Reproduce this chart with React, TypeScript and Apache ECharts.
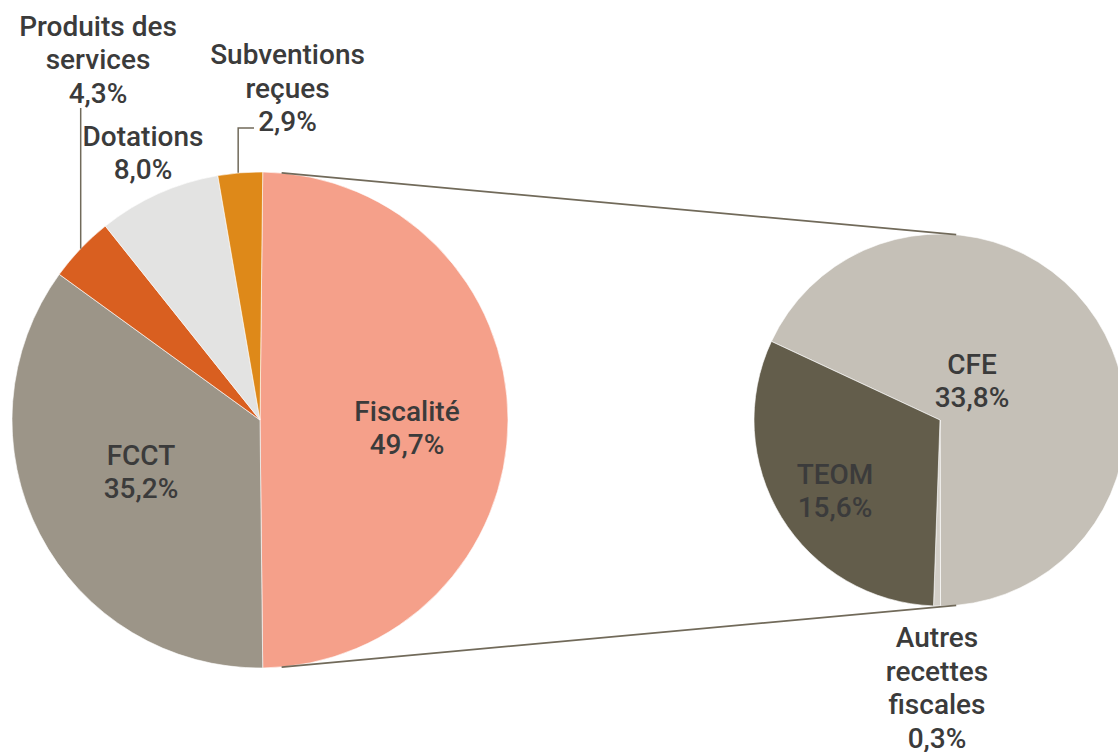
import React, { useEffect, useRef } from "react";
import * as echarts from "echarts";

// ---- Data ----
const mainNames = ["Fiscalité", "FCCT", "Produits des\nservices", "Dotations", "Subventions\nreçues"];
const mainValues = [49.7, 35.2, 4.3, 8.0, 2.9];
const mainColors = ["#F5A08A", "#9C9588", "#D95F20", "#E3E3E2", "#DE8919"];

const subNames = ["CFE", "Autres\nrecettes\nfiscales", "TEOM"];
const subValues = [33.8, 0.3, 15.6];
const subColors = ["#C5C0B7", "#D3CFC8", "#635D4B"];

// ---- Layout ----
const MAIN_C = [260, 420];
const MAIN_R = 248;
const SUB_C = [940, 420];
const SUB_R = 186;
const SUB_START = 155;
const CONNECT_ANGLE = 85;

const mainLabelPos = [
  [407, 428],
  [141, 472],
  [98, 59.5],
  [143, 153],
  [287.5, 88],
];
const subLabelPos = [
  [972, 381],
  [937, 688],
  [835, 491],
];

const FONT = "Roboto, 'Noto Sans', sans-serif";
const TEXT_COLOR = "#3B3B3B";

const fmt = (v: number) => v.toFixed(1).replace(".", ",") + "%";

function sum(a: number[]) {
  return a.reduce((s, v) => s + v, 0);
}

function midAngle(values: number[], start: number, i: number) {
  const total = sum(values);
  let a = start;
  for (let k = 0; k < i; k++) a -= (values[k] / total) * 360;
  return a - (values[i] / total) * 180;
}

function onCircle(c: number[], r: number, deg: number) {
  const t = (deg * Math.PI) / 180;
  return [c[0] + r * Math.cos(t), c[1] - r * Math.sin(t)];
}

export default function App() {
  const ref = useRef<HTMLDivElement>(null);

  useEffect(() => {
    if (!ref.current) return;
    document.body.style.margin = "0";
    const chart = echarts.init(ref.current, undefined, { renderer: "svg" });

    const mainStart = (mainValues[0] / sum(mainValues)) * 180;

    const labelStyle = {
      show: true,
      position: "inside",
      color: TEXT_COLOR,
      fontFamily: FONT,
      fontSize: 28,
      fontWeight: 500,
      lineHeight: 33.5,
      align: "center",
    };

    const prodEdge = onCircle(MAIN_C, MAIN_R, midAngle(mainValues, mainStart, 2));
    const subvEdge = onCircle(MAIN_C, MAIN_R, midAngle(mainValues, mainStart, 4));

    const topA = onCircle(MAIN_C, MAIN_R, CONNECT_ANGLE);
    const topB = onCircle(SUB_C, SUB_R, CONNECT_ANGLE);
    const botA = onCircle(MAIN_C, MAIN_R, -CONNECT_ANGLE);
    const botB = onCircle(SUB_C, SUB_R, -CONNECT_ANGLE);

    const lineColor = "#716A5A";

    chart.setOption({
      animation: false,
      backgroundColor: "#ffffff",
      series: [
        {
          type: "pie",
          center: MAIN_C,
          radius: [0, MAIN_R],
          startAngle: mainStart,
          clockwise: true,
          silent: true,
          label: {
            ...labelStyle,
            formatter: (p: any) => p.name + "\n" + fmt(p.value),
          },
          labelLine: { show: false },
          labelLayout: (p: any) => ({
            x: mainLabelPos[p.dataIndex][0],
            y: mainLabelPos[p.dataIndex][1],
            align: "center",
            verticalAlign: "middle",
          }),
          itemStyle: { borderColor: "#ffffff", borderWidth: 0.6 },
          data: mainValues.map((v, i) => ({
            name: mainNames[i],
            value: v,
            itemStyle: { color: mainColors[i] },
          })),
        },
        {
          type: "pie",
          center: SUB_C,
          radius: [0, SUB_R],
          startAngle: SUB_START,
          clockwise: true,
          silent: true,
          label: {
            ...labelStyle,
            formatter: (p: any) => p.name + "\n" + fmt(p.value),
          },
          labelLine: { show: false },
          labelLayout: (p: any) => ({
            x: subLabelPos[p.dataIndex][0],
            y: subLabelPos[p.dataIndex][1],
            align: "center",
            verticalAlign: "middle",
          }),
          itemStyle: { borderColor: "#ffffff", borderWidth: 0.6 },
          data: subValues.map((v, i) => ({
            name: subNames[i],
            value: v,
            itemStyle: { color: subColors[i] },
          })),
        },
      ],
      graphic: [
        {
          type: "line",
          silent: true,
          z: 10,
          shape: { x1: topA[0], y1: topA[1], x2: topB[0], y2: topB[1] },
          style: { stroke: lineColor, lineWidth: 1.8 },
        },
        {
          type: "line",
          silent: true,
          z: 10,
          shape: { x1: botA[0], y1: botA[1], x2: botB[0], y2: botB[1] },
          style: { stroke: lineColor, lineWidth: 1.8 },
        },
        {
          type: "polyline",
          silent: true,
          z: 10,
          shape: { points: [[prodEdge[0], prodEdge[1]], [prodEdge[0], 108]] },
          style: { stroke: lineColor, lineWidth: 1.5, fill: "none" },
        },
        {
          type: "polyline",
          silent: true,
          z: 10,
          shape: {
            points: [
              [subvEdge[0] - 2, subvEdge[1]],
              [subvEdge[0] - 2, 128],
              [254, 128],
            ],
          },
          style: { stroke: lineColor, lineWidth: 1.5, fill: "none" },
        },
      ],
    });

    return () => chart.dispose();
  }, []);

  return (
    <div
      ref={ref}
      style={{ position: "fixed", left: 0, top: 0, width: 1118, height: 752 }}
    />
  );
}
